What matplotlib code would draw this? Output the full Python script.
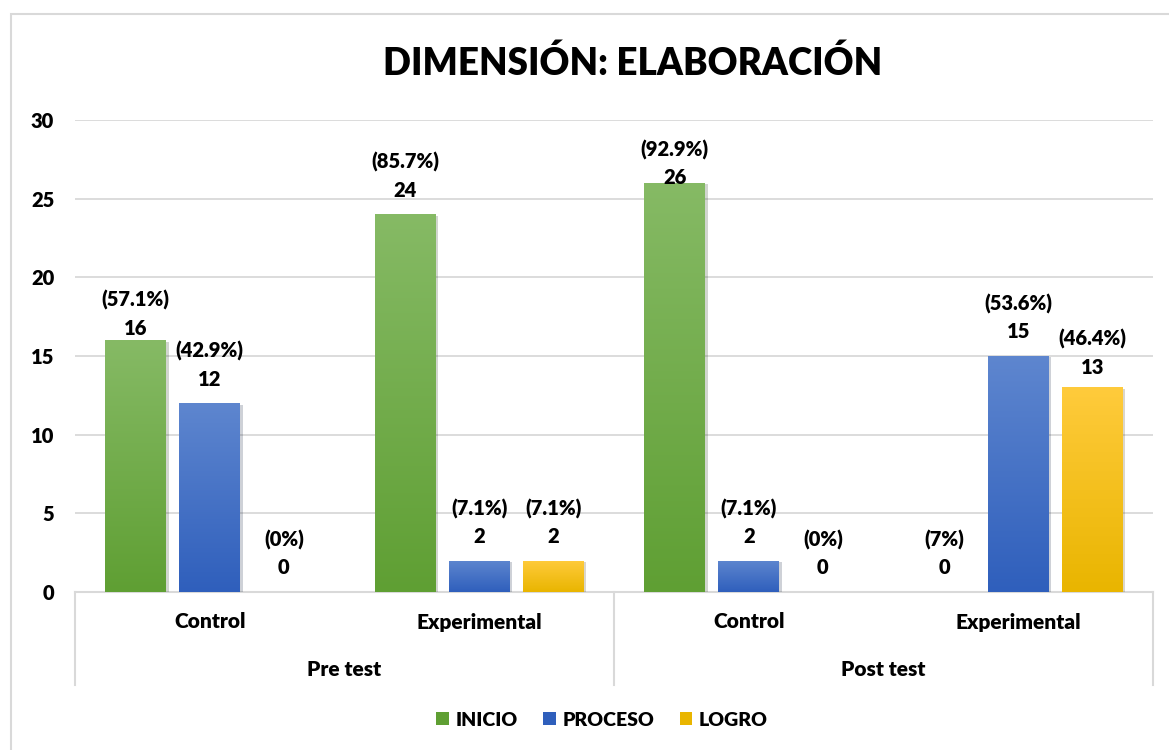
import numpy as np
import matplotlib
matplotlib.use("Agg")
import matplotlib.pyplot as plt
from matplotlib.patches import Rectangle, Patch
from matplotlib.colors import LinearSegmentedColormap
from matplotlib.transforms import blended_transform_factory
import matplotlib.patheffects as pe

plt.rcParams["font.family"] = ["Lato", "DejaVu Sans"]
plt.rcParams["font.weight"] = "heavy"

# ---- data --------------------------------------------------------------------
GROUPS = ["Pre test", "Post test"]
SUBGROUPS = ["Control", "Experimental", "Control", "Experimental"]
SERIES = ["INICIO", "PROCESO", "LOGRO"]
INICIO = [16, 24, 26, 0]
PROCESO = [12, 2, 2, 15]
LOGRO = [0, 2, 0, 13]
INICIO_PCT = ["(57.1%)", "(85.7%)", "(92.9%)", "(7%)"]
PROCESO_PCT = ["(42.9%)", "(7.1%)", "(7.1%)", "(53.6%)"]
LOGRO_PCT = ["(0%)", "(7.1%)", "(0%)", "(46.4%)"]

# style: (bottom colour, top colour) for the bar gradients
COLORS = {"INICIO": ("#5f9f33", "#86ba65"),
          "PROCESO": ("#2f5fbc", "#5e86cf"),
          "LOGRO": ("#e9b500", "#ffcb3c")}
# small manual nudges of label height (pixels), as in the original
NUDGE = {(0, 0): -12, (0, 2): -19, (2, 3): -4}
FS = 14.5

W, H = 1169, 750
fig = plt.figure(figsize=(W / 100, H / 100), dpi=100)
fig.patches.append(Rectangle((11 / W, -0.01), 1.0, (H - 14) / H + 0.01,
                             transform=fig.transFigure, fill=False,
                             edgecolor="#d9d9d9", lw=1.5))
ax = fig.add_axes([75 / W, 158 / H, (1153 - 75) / W, (592 - 120) / H])

x = np.arange(len(SUBGROUPS))
w, step = 0.225, 0.275
grad = np.linspace(0, 1, 256).reshape(-1, 1)
series_vals = [INICIO, PROCESO, LOGRO]
series_pct = [INICIO_PCT, PROCESO_PCT, LOGRO_PCT]

for i, name in enumerate(SERIES):
    c_bot, c_top = COLORS[name]
    cmap = LinearSegmentedColormap.from_list(name, [c_bot, c_top])
    xs = x + (i - 1) * step
    bars = ax.bar(xs, series_vals[i], w, color=c_bot, lw=0, zorder=3,
                  path_effects=[pe.SimplePatchShadow(offset=(2, -1), alpha=0.2),
                                pe.Normal()])
    for j, b in enumerate(bars):
        h = b.get_height()
        if h > 0:
            im = ax.imshow(grad, cmap=cmap, origin="lower", aspect="auto",
                           extent=[b.get_x(), b.get_x() + w, 0, h], zorder=3.5)
            im.set_clip_path(b)
        dy = NUDGE.get((i, j), 0)
        ax.annotate(str(series_vals[i][j]), (xs[j], h), xytext=(0, 24 + dy),
                    textcoords="offset pixels", ha="center", va="center",
                    fontsize=FS, fontweight="heavy", zorder=5)
        ax.annotate(series_pct[i][j], (xs[j], h), xytext=(0, 52 + dy),
                    textcoords="offset pixels", ha="center", va="center",
                    fontsize=FS, fontweight="heavy", zorder=5)

ax.set_xlim(-0.5, 3.5)
ax.set_ylim(0, 30)
ax.set_yticks(range(0, 31, 5))
ax.set_xticks([])
ax.tick_params(axis="y", length=0, pad=15, labelsize=FS)
ax.grid(axis="y", color="#d9d9d9", lw=1.3, zorder=0)
for s in ["top", "right", "left"]:
    ax.spines[s].set_visible(False)
ax.spines["bottom"].set_color("#d9d9d9")
ax.spines["bottom"].set_linewidth(1.5)

# hierarchical category axis
tr = blended_transform_factory(ax.transData, ax.transAxes)
for xi, lbl in zip(x, SUBGROUPS):
    ax.annotate(lbl, (xi, 0), xycoords=tr, xytext=(0, -30),
                textcoords="offset pixels", ha="center", va="center",
                fontsize=15, fontweight="heavy")
for k, g in enumerate(GROUPS):
    ax.annotate(g, (2 * k + 0.5, 0), xycoords=tr, xytext=(0, -78),
                textcoords="offset pixels", ha="center", va="center",
                fontsize=15, fontweight="heavy")
for xv in [-0.5, 1.5, 3.5]:
    ax.plot([xv, xv], [0, -93 / 472], transform=tr, clip_on=False,
            color="#d9d9d9", lw=1.5)

fig.text(633 / W, 1 - 63 / H, "DIMENSIÓN: ELABORACIÓN", ha="center",
         va="center", fontsize=26.5, fontweight="heavy")

handles = [Patch(facecolor=COLORS[n][0], label=n) for n in SERIES]
fig.legend(handles=handles, loc="center", bbox_to_anchor=(602 / W, 1 - 720 / H),
           ncol=3, frameon=False, fontsize=14, handlelength=0.65,
           handleheight=0.65, handletextpad=0.35, columnspacing=1.3)

fig.savefig("out.png", dpi=100)
